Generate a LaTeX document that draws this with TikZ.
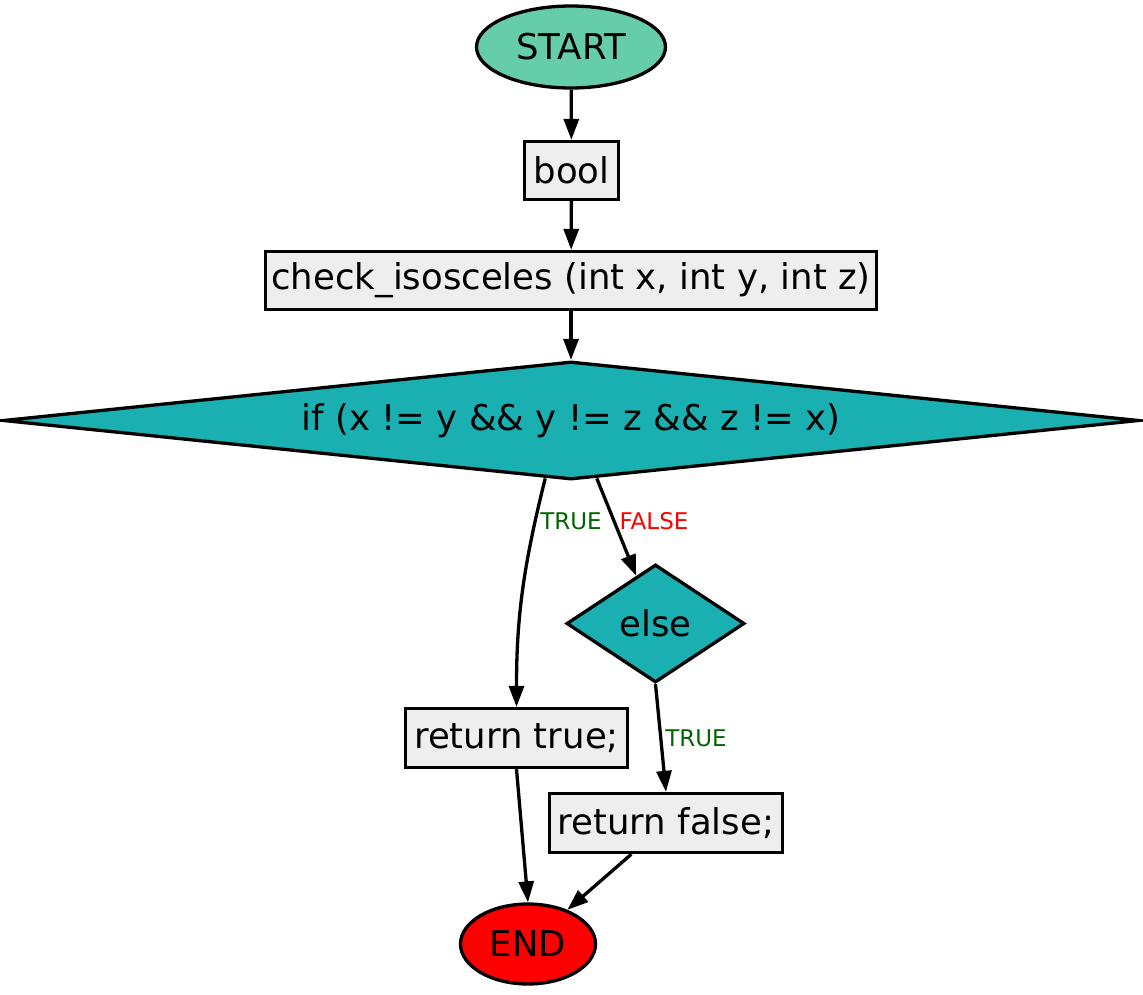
\documentclass[tikz,border=0pt]{standalone}
\usepackage{fontspec}
\setmainfont{DejaVu Sans}
\usetikzlibrary{shapes.geometric,arrows.meta}
\definecolor{startc}{HTML}{66CDAA}
\definecolor{decc}{HTML}{1AAFB0}
\definecolor{boxc}{HTML}{EEEEEE}
\definecolor{truec}{HTML}{006400}
\begin{document}
\begin{tikzpicture}[x=1pt,y=-1pt,line width=3.3pt,
  every node/.style={font=\fontsize{35.5}{42}\selectfont},
  term/.style={ellipse,draw,inner sep=0pt},
  stmt/.style={rectangle,draw,fill=boxc,inner sep=0pt},
  dec/.style={diamond,draw,fill=decc,inner sep=0pt},
  conn/.style={-{Triangle[length=21pt,width=15pt]}},
  lbl/.style={font=\fontsize{23}{28}\selectfont,inner sep=0pt}]
\useasboundingbox (0,0) rectangle (1143,994);
\node[term,fill=startc,minimum width=189pt,minimum height=82pt] (start) at (571,47) {START};
\node[stmt,minimum width=94pt,minimum height=58pt] (bool) at (571.5,170.5) {bool};
\node[stmt,minimum width=611pt,minimum height=58pt] (check) at (571,280.5) {check\_isosceles (int x, int y, int z)};
\node[dec,minimum width=1136pt,minimum height=118pt,shape aspect=9.6] (if) at (571,420.5) {if (x != y \&\& y != z \&\& z != x)};
\node[dec,minimum width=178pt,minimum height=118pt,shape aspect=1.5] (else) at (655.5,623.5) {else};
\node[stmt,minimum width=222pt,minimum height=59pt] (rt) at (516.5,738) {return true;};
\node[stmt,minimum width=233pt,minimum height=59pt] (rf) at (666,823) {return false;};
\node[term,fill=red,minimum width=135pt,minimum height=80pt] (end) at (528,944) {END};
\node[lbl,text=truec] (l1) at (571,521) {TRUE};
\node[lbl,text=red] (l2) at (654,521) {FALSE};
\node[lbl,text=truec] (l3) at (696,738) {TRUE};
\draw[conn] (start) -- (bool);
\draw[conn] (bool) -- (check);
\draw[conn] (check) -- (if);
\draw[conn] (if.-114) to[out=-104,in=90] (rt.north);
\draw[conn] (if.-66.7) -- (else);
\draw[conn] (else.south) -- (rf.north);
\draw[conn] (rt.south) -- (end.north);
\draw[conn] (rf.-138) -- (end);
\end{tikzpicture}
\end{document}
